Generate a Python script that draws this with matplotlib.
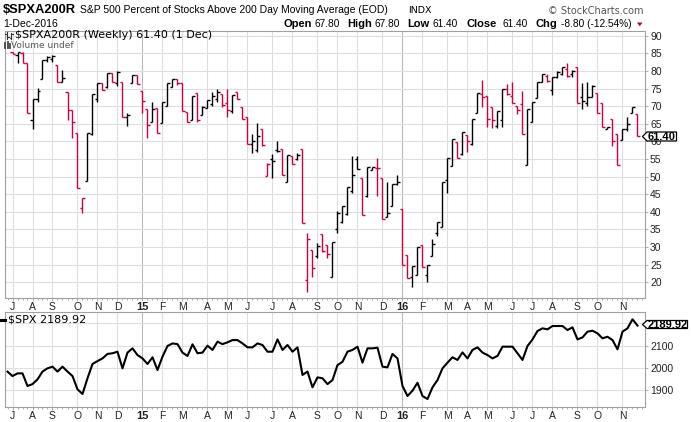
import numpy as np
import pandas as pd
import matplotlib
matplotlib.use("Agg")
import matplotlib.pyplot as plt
from matplotlib.lines import Line2D
from matplotlib.patches import Polygon

# weekly bars, week of 7-Jul-2014 .. week of 28-Nov-2016 (last bar 1-Dec-2016)
opens = [85.5, 84.5, 85.0, 82.2, 66.0, 72.0, 77.6, 83.0, 83.5, 81.7,
         77.0, 74.0, 68.9, 62.3, 41.0, 48.9, 62.0, 72.0, 76.5, 75.5,
         79.3, 76.5, 76.8, 67.0, 76.5, 78.8, 74.3, 69.1, 65.5, 69.5,
         65.1, 70.0, 75.5, 77.6, 76.5, 68.4, 66.1, 73.6, 67.5, 69.4,
         70.5, 72.0, 73.4, 71.0, 68.5, 74.0, 69.7, 66.8, 59.3, 57.5,
         63.5, 50.3, 55.0, 57.5, 57.8, 48.4, 55.8, 55.0, 57.8, 20.7,
         29.2, 27.5, 33.7, 30.6, 21.4, 35.0, 37.0, 39.5, 46.0, 55.0,
         49.7, 44.5, 52.0, 52.5, 49.7, 38.5, 41.7, 48.0, 40.8, 27.8,
         21.5, 22.1, 30.6, 22.0, 27.6, 34.0, 35.6, 49.0, 53.0, 59.9,
         56.5, 61.8, 59.2, 68.0, 73.5, 72.9, 69.9, 64.5, 66.0, 75.0,
         73.0, 70.0, 70.5, 53.3, 65.4, 72.2, 77.0, 78.5, 74.6, 78.3,
         79.0, 80.5, 79.0, 81.0, 72.5, 71.0, 72.7, 73.6, 71.0, 63.6,
         66.3, 62.1, 60.4, 63.5, 68.0, 67.8]
highs = [85.5, 85.3, 85.3, 82.2, 72.0, 75.1, 83.1, 84.2, 84.5, 81.7,
         80.4, 74.0, 68.9, 62.3, 43.8, 62.5, 73.4, 76.7, 76.7, 79.3,
         79.5, 80.1, 76.8, 68.0, 78.8, 78.8, 74.3, 69.1, 71.3, 69.5,
         71.3, 76.5, 77.6, 77.6, 76.5, 68.4, 72.9, 73.6, 70.0, 71.7,
         74.1, 74.8, 73.4, 74.9, 73.2, 74.1, 69.7, 66.8, 62.1, 65.1,
         63.5, 53.8, 56.3, 60.1, 57.8, 56.1, 55.9, 56.6, 57.8, 33.9,
         29.2, 31.3, 33.7, 30.6, 31.4, 40.2, 41.7, 47.1, 55.9, 55.9,
         49.7, 52.6, 52.8, 55.4, 49.7, 48.6, 47.9, 50.5, 40.8, 27.8,
         24.6, 30.1, 30.6, 24.9, 32.2, 37.0, 48.6, 55.4, 60.7, 59.9,
         62.6, 61.8, 66.5, 73.8, 77.4, 72.9, 69.9, 68.6, 74.8, 76.3,
         76.8, 70.0, 74.3, 69.2, 71.3, 76.9, 79.0, 79.0, 78.4, 80.1,
         81.2, 82.2, 80.4, 81.0, 76.7, 76.9, 76.0, 73.6, 71.0, 64.2,
         66.3, 62.1, 63.4, 67.0, 69.9, 67.8]
lows = [84.7, 82.2, 82.2, 68.0, 63.6, 71.3, 77.6, 82.6, 82.6, 76.9,
        76.9, 66.1, 60.9, 46.7, 39.6, 48.9, 61.8, 71.3, 74.6, 75.3,
        76.9, 75.7, 66.8, 64.5, 76.5, 76.2, 68.0, 61.1, 65.4, 62.3,
        65.1, 70.0, 75.5, 76.0, 68.7, 65.6, 66.1, 65.6, 67.5, 69.4,
        70.0, 71.3, 69.7, 66.8, 68.0, 71.9, 66.3, 59.2, 56.6, 57.1,
        58.7, 50.3, 49.7, 57.1, 50.6, 48.4, 53.5, 54.7, 36.7, 17.3,
        21.4, 27.0, 28.7, 26.8, 21.4, 33.9, 36.9, 39.1, 45.3, 52.1,
        39.1, 44.1, 51.9, 44.6, 37.9, 38.4, 41.7, 47.6, 24.9, 21.1,
        18.8, 22.1, 24.4, 20.0, 27.6, 33.2, 35.6, 45.3, 53.0, 55.4,
        56.1, 57.1, 59.0, 68.0, 69.9, 64.2, 63.7, 63.9, 64.2, 73.2,
        70.8, 67.7, 62.0, 53.3, 65.4, 72.2, 76.8, 76.9, 73.2, 77.9,
        78.8, 78.4, 78.4, 71.0, 69.1, 70.1, 72.7, 68.0, 64.0, 63.4,
        58.7, 53.3, 60.4, 62.9, 68.0, 61.4]
closes = [84.7, 85.3, 82.2, 68.0, 72.0, 74.3, 83.1, 84.0, 84.2, 76.9,
          77.9, 68.9, 65.6, 46.7, 43.8, 62.5, 73.4, 76.7, 74.6, 79.3,
          76.9, 79.8, 66.8, 67.6, 78.8, 76.2, 71.5, 64.6, 69.1, 62.3,
          71.3, 76.5, 77.6, 76.5, 68.7, 65.6, 72.9, 66.1, 69.7, 71.7,
          72.9, 74.1, 70.3, 68.9, 73.2, 71.9, 66.3, 59.2, 60.0, 61.5,
          59.0, 53.5, 54.4, 57.3, 50.6, 56.1, 53.5, 56.1, 36.7, 32.3,
          24.0, 30.3, 28.9, 28.0, 31.4, 39.8, 41.7, 47.1, 50.6, 52.1,
          39.1, 52.6, 52.8, 52.5, 37.9, 39.8, 47.9, 48.6, 24.9, 21.1,
          24.6, 30.1, 24.4, 24.9, 30.8, 37.0, 48.6, 55.4, 60.7, 55.4,
          62.6, 60.1, 66.5, 73.8, 72.7, 66.3, 66.1, 68.6, 74.8, 73.4,
          70.8, 68.9, 62.0, 69.2, 71.3, 76.9, 79.0, 77.1, 78.4, 79.8,
          81.2, 78.6, 80.1, 71.0, 71.6, 72.7, 75.8, 68.0, 64.0, 64.2,
          60.1, 53.3, 63.4, 64.9, 69.8, 61.4]

# $SPX weekly closes, starts one week earlier (week of 30-Jun-2014)
spx = [1983.6, 1964, 1976, 1976, 1919.4, 1928, 1949, 1984, 1998.5, 2006,
       1984, 2006, 1984, 1964, 1904.5, 1883.6, 1954, 2018, 2031, 2043,
       2063, 2066, 2073, 1998.5, 2069, 2088, 2058, 2043, 2018, 2048,
       1991, 2051, 2098.5, 2110, 2107, 2069, 2054, 2106, 2066, 2069,
       2100, 2081, 2118, 2107, 2115, 2125, 2125, 2110, 2092.5, 2092.5,
       2110, 2103, 2073, 2073, 2128, 2081, 2103, 2073, 2092.5, 1969,
       1984, 1913.5, 1958, 1954, 1928, 1946, 2013, 2028, 2073, 2081,
       2095.5, 2024, 2088, 2088, 2091, 2006, 2003, 2063, 2043, 1919.4,
       1874.6, 1898.5, 1934, 1874.6, 1861, 1913.5, 1946, 1998.5, 2024, 2048,
       2036, 2070, 2043, 2081, 2092.5, 2069, 2058, 2043, 2054, 2095.5,
       2095.5, 2095.5, 2066, 2036, 2098.5, 2128, 2165.7, 2177.6, 2173, 2188,
       2188, 2188, 2170, 2182, 2128, 2137, 2162.7, 2167, 2155, 2133,
       2140, 2125, 2083.6, 2162.7, 2177.6, 2218, 2189.92]

weeks = pd.date_range("2014-06-30", periods=len(spx), freq="W-MON")
month_letters = "JFMAMJJASOND"

W, H = 691, 422
RED = "#d0003c"
GRID = "#dedede"
YEARGRID = "#b8b8b8"
SPINE = "#a0a0a0"
SANS = ["Liberation Sans", "DejaVu Sans"]


def fx(x):
    return x / W


def fy(y):
    return 1 - y / H


fig = plt.figure(figsize=(W / 100, H / 100), dpi=100)
fig.patch.set_facecolor("white")

ax1 = fig.add_axes([fx(4.7), fy(298), (644.5 - 4.7) / W, (298 - 30.5) / H])
ax2 = fig.add_axes([fx(4.7), fy(407), (644.5 - 4.7) / W, (407 - 312.3) / H])

# month gridlines / labels from the week dates
xw = np.arange(len(weeks)) - 1
mpos, mlab, myear = [], [], []
for k in range(1, len(weeks)):
    if weeks[k].month != weeks[k - 1].month:
        mpos.append(xw[k])
        if weeks[k].month == 1:
            mlab.append(weeks[k].strftime("%y"))
            myear.append(True)
        else:
            mlab.append(month_letters[weeks[k].month - 1])
            myear.append(False)

for ax in (ax1, ax2):
    ax.set_xlim(-1.56, 126.4)
    for p, yr in zip(mpos, myear):
        ax.axvline(p, color=YEARGRID if yr else GRID, lw=0.8, zorder=0)
    ax.grid(axis="y", color=GRID, lw=0.8, zorder=0)
    ax.set_axisbelow(True)
    for s in ax.spines.values():
        s.set_color(SPINE)
        s.set_linewidth(0.8)
    ax.yaxis.tick_right()
    ax.tick_params(axis="y", length=2.5, width=0.6, color=SPINE, pad=1.5,
                   labelsize=7.5, labelcolor="#222222")
    ax.set_xticks(mpos)
    ax.set_xticklabels(mlab)
    ax.set_xticks(np.arange(-1, 127), minor=True)
    ax.tick_params(axis="x", which="major", length=2, width=0.6, color=SPINE,
                   pad=1.2, labelsize=7.5, labelcolor="#222222")
    ax.tick_params(axis="x", which="minor", length=1.5, width=0.6, color=SPINE)
    for lbl, yr in zip(ax.get_xticklabels(), myear):
        lbl.set_family(SANS)
        if yr:
            lbl.set_fontweight("bold")
            lbl.set_fontsize(8)
    for lbl in ax.get_yticklabels():
        lbl.set_family(SANS)

# OHLC bars
x = np.arange(len(closes))
prev = [opens[0]] + closes[:-1]
colors = [RED if c < p else "black" for c, p in zip(closes, prev)]
ax1.vlines(x, lows, highs, colors=colors, lw=1.0)
ax1.hlines(opens, x - 0.45, x, colors=colors, lw=1.0)
ax1.hlines(closes, x, x + 0.45, colors=colors, lw=1.0)
ax1.set_ylim(15.55, 91.48)
ax1.set_yticks(range(20, 91, 5))

# $SPX line
ax2.plot(xw, spx, color="black", lw=1.5, solid_joinstyle="round")
ax2.set_ylim(1825.4, 2249.4)
ax2.set_yticks([1900, 2000, 2100, 2200])
ax2.set_yticklabels(["1900", "2000", "2100", ""])
for lbl in ax2.get_yticklabels():
    lbl.set_family(SANS)

# header
fig.text(fx(3), fy(13.3), "$SPXA200R", family=SANS, weight="bold", size=9.3)
fig.text(fx(80), fy(13.3),
         "S&P 500 Percent of Stocks Above 200 Day Moving Average (EOD)",
         family=SANS, size=7.5)
fig.text(fx(408), fy(13.3), "INDX", family="DejaVu Sans", size=6.8)
fig.text(fx(644), fy(14), "\u00a9 StockCharts.com", family="DejaVu Sans",
         size=7, color="#555555", ha="right")
fig.text(fx(3), fy(26.7), "1-Dec-2016", family=SANS, size=7.5)
for xpos, txt, bold in [(284, "Open", True), (314.5, "67.80", False),
                        (347, "High", True), (374.5, "67.80", False),
                        (407, "Low", True), (432.5, "61.40", False),
                        (467, "Close", True), (502.5, "61.40", False),
                        (536, "Chg", True), (561, "-8.80 (-12.54%)", False)]:
    fig.text(fx(xpos), fy(26.7), txt, family=SANS, size=8 if bold else 7.3,
             weight="bold" if bold else "normal")
fig.add_artist(Polygon([(fx(637), fy(22.5)), (fx(642.5), fy(22.5)),
                        (fx(639.75), fy(26.3))], closed=True,
                       transform=fig.transFigure, fc="#a0102e", ec="none"))


def fline(xs, ys, **kw):
    fig.add_artist(Line2D([fx(v) for v in xs], [fy(v) for v in ys],
                          transform=fig.transFigure, **kw))


# panel legends
fline([7, 7], [32, 38.5], color="#333333", lw=0.8)
fline([5.5, 7], [33.5, 33.5], color="#333333", lw=0.8)
fline([7, 8.5], [37, 37], color="#333333", lw=0.8)
fline([11, 11], [32.5, 39], color="#333333", lw=0.8)
fline([9.5, 11], [37.5, 37.5], color="#333333", lw=0.8)
fline([11, 12.5], [33.5, 33.5], color="#333333", lw=0.8)
fig.text(fx(15), fy(38.5), "$SPXA200R (Weekly) 61.40 (1 Dec)",
         family="DejaVu Sans", size=8)
for bx, top in [(5.5, 43), (7.5, 41.5), (9.5, 44)]:
    fline([bx, bx], [top, 48], color="#444444", lw=1.3)
fig.text(fx(11), fy(47.8), "Volume undef", family="DejaVu Sans", size=6.5,
         color="#555555")
fline([1, 5.5], [319.5, 319.5], color="black", lw=2.2)
fig.text(fx(7.5), fy(322.8), "$SPX 2189.92", family="DejaVu Sans", size=8)

# last value flags
for y0, y1, x1, txt in [(132, 141, 676.5, "61.40"),
                        (320.5, 328.5, 687.5, "2189.92")]:
    ym = (y0 + y1) / 2
    fig.add_artist(Polygon([(fx(642.5), fy(ym)), (fx(647), fy(y0)),
                            (fx(x1), fy(y0)), (fx(x1), fy(y1)),
                            (fx(647), fy(y1))], closed=True,
                           transform=fig.transFigure, fc="white",
                           ec="black", lw=0.9, zorder=5))
    fig.text(fx((647 + x1) / 2), fy(ym + 0.3), txt, family=SANS, size=8,
             weight="bold", ha="center", va="center", zorder=6)

fig.savefig("out.png", dpi=100)
